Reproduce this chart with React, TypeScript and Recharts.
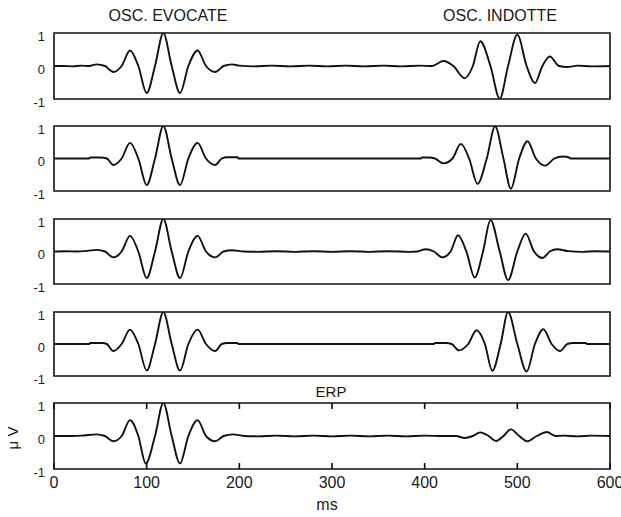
import React from 'react';
import { LineChart, Line, XAxis, YAxis, ReferenceArea } from 'recharts';

const xTicks = [0, 100, 200, 300, 400, 500, 600];
const yTicks = [-1, 0, 1];

const panelTitles = ['OSC. EVOCATE', 'OSC. INDOTTE', 'ERP'];
const xAxisTitle = 'ms';
const yAxisTitle = 'μ V';

// Trial 1 (ms, µV)
const trial1Ms = [0, 10, 20, 30, 38, 46, 55, 64, 73, 82, 91, 100, 109, 118, 127, 136, 145, 155, 164, 174, 183, 192, 200, 215, 235, 255, 275, 295, 315, 335, 355, 375, 395, 408, 420, 431, 443, 452, 460, 471, 481, 490, 500, 510, 519, 527, 535, 545, 554, 565, 580, 600];
const trial1Uv = [0, 0, -0.01, 0.01, 0, 0.05, 0, -0.18, 0, 0.47, 0, -0.82, 0, 1.0, 0, -0.82, 0, 0.47, 0, -0.18, 0, 0.05, 0.01, -0.01, 0.01, -0.01, 0.01, -0.01, 0.01, -0.01, 0.01, -0.01, 0.01, 0, 0.15, 0, -0.37, 0, 0.75, 0, -0.99, 0, 0.95, 0, -0.52, 0, 0.29, 0, -0.03, 0.01, -0.01, 0];

// Trial 2
const trial2Ms = [0, 38, 39, 50, 57, 64, 73, 82, 91, 100, 109, 118, 127, 136, 145, 155, 164, 174, 181, 187, 198, 199, 396, 397, 405, 411, 420, 430, 439, 448, 457, 467, 476, 485, 493, 502, 511, 520, 530, 540, 549, 556, 557, 600];
const trial2Uv = [0, 0, 0.03, 0.03, 0, -0.2, 0, 0.48, 0, -0.82, 0, 1.0, 0, -0.82, 0, 0.48, 0, -0.2, 0, 0.04, 0.04, 0, 0, 0.03, 0.03, 0, -0.15, 0, 0.45, 0, -0.78, 0, 0.99, 0, -0.93, 0, 0.53, 0, -0.22, 0, 0.06, 0.03, 0, 0];

// Trial 3
const trial3Ms = [0, 12, 24, 36, 46, 55, 64, 73, 82, 91, 100, 109, 118, 127, 136, 145, 155, 164, 174, 183, 192, 205, 220, 240, 260, 280, 300, 320, 340, 360, 383, 392, 401, 410, 419, 428, 436, 445, 454, 463, 471, 481, 490, 500, 509, 518, 527, 535, 543, 555, 570, 585, 600];
const trial3Uv = [0, 0.01, 0, 0.02, 0.05, 0, -0.18, 0, 0.48, 0, -0.82, 0, 1.0, 0, -0.82, 0, 0.48, 0, -0.18, 0, 0.04, 0, -0.01, 0.01, -0.01, 0.01, -0.01, 0.01, -0.01, 0.01, -0.01, 0, 0.07, 0, -0.18, 0, 0.5, 0, -0.8, 0, 0.97, 0, -0.88, 0, 0.55, 0, -0.2, 0, 0.07, 0.01, -0.01, 0.01, 0];

// Trial 4
const trial4Ms = [0, 38, 39, 52, 57, 64, 73, 82, 91, 100, 109, 118, 127, 136, 145, 155, 164, 174, 181, 187, 198, 199, 410, 411, 423, 429, 437, 447, 456, 465, 473, 482, 490, 500, 510, 519, 528, 537, 546, 554, 560, 574, 575, 600];
const trial4Uv = [0, 0, 0.03, 0.03, 0, -0.22, 0, 0.45, 0, -0.83, 0, 1.0, 0, -0.83, 0, 0.45, 0, -0.22, 0, 0.03, 0.03, 0, 0, 0.03, 0.03, 0, -0.2, 0, 0.43, 0, -0.84, 0, 1.0, 0, -0.86, 0, 0.46, 0, -0.22, 0, 0.03, 0.03, 0, 0];

// ERP (average)
const erpMs = [0, 20, 30, 46, 55, 64, 73, 82, 91, 99, 109, 118, 127, 136, 145, 155, 164, 174, 183, 193, 205, 220, 240, 260, 280, 300, 320, 340, 360, 380, 400, 420, 434, 443, 452, 460, 469, 477, 485, 493, 502, 511, 521, 532, 541, 550, 565, 580, 600];
const erpUv = [0, 0, 0.01, 0.05, 0, -0.16, 0, 0.48, 0, -0.83, 0, 1.0, 0, -0.83, 0, 0.48, 0, -0.16, 0, 0.05, 0, -0.01, 0.01, -0.01, 0.01, -0.01, 0.01, -0.01, 0.01, -0.01, 0.01, 0, 0, -0.06, 0, 0.11, 0, -0.15, 0, 0.2, 0, -0.16, 0, 0.12, 0, 0.01, -0.01, 0.01, 0];

const FONT = '"Liberation Sans", Arial, Helvetica, sans-serif';
const INK = '#111';
const TEXT = '#1a1a1a';

const toRows = (ms: number[], uv: number[]) => ms.map((t, i) => ({ t, v: uv[i] }));

type PanelProps = { ms: number[]; uv: number[]; top: number; plotH: number; last?: boolean };

function Panel({ ms, uv, top, plotH, last }: PanelProps) {
  const data = toRows(ms, uv);
  const pad = 12;
  const bottomAxisH = last ? 48 : 0;
  const h = pad + plotH + (last ? bottomAxisH : pad);
  const yTickStyle = { fontSize: 13, fill: TEXT, fontFamily: FONT, dy: 3 };
  return (
    <div style={{ position: 'absolute', left: 0, top: top - pad }}>
      <LineChart width={621} height={h} data={data} margin={{ top: pad, right: 11, bottom: last ? 0 : pad, left: 0 }}>
        <XAxis
          dataKey="t"
          type="number"
          domain={[0, 600]}
          ticks={xTicks}
          height={bottomAxisH}
          hide={!last}
          axisLine={false}
          tickLine={{ stroke: INK, strokeWidth: 1.7 }}
          tickSize={-6}
          tickMargin={14}
          tick={{ fontSize: 16, fill: TEXT, fontFamily: FONT }}
          interval={0}
        />
        {last && (
          <XAxis
            xAxisId="top"
            orientation="top"
            mirror
            dataKey="t"
            type="number"
            domain={[0, 600]}
            ticks={xTicks}
            height={10}
            axisLine={false}
            tickLine={{ stroke: INK, strokeWidth: 1.7 }}
            tickSize={6}
            tickFormatter={() => ''}
            interval={0}
          />
        )}
        <YAxis
          type="number"
          domain={[-1, 1]}
          ticks={yTicks}
          width={54}
          allowDataOverflow
          axisLine={false}
          tickLine={false}
          tickSize={6}
          tickMargin={3}
          tick={yTickStyle}
          interval={0}
        />
        <ReferenceArea
          x1={0}
          x2={600}
          y1={-1}
          y2={1}
          fill="none"
          fillOpacity={0}
          stroke={INK}
          strokeWidth={1.6}
          ifOverflow="visible"
        />
        <Line
          type="monotone"
          dataKey="v"
          stroke={INK}
          strokeWidth={1.9}
          dot={false}
          activeDot={false}
          isAnimationActive={false}
        />
      </LineChart>
    </div>
  );
}

export default function App() {
  return (
    <div style={{ position: 'absolute', left: 0, top: 0, width: 621, height: 517, background: '#fff', overflow: 'hidden' }}>
      <Panel ms={trial1Ms} uv={trial1Uv} top={33} plotH={66} />
      <Panel ms={trial2Ms} uv={trial2Uv} top={126} plotH={65} />
      <Panel ms={trial3Ms} uv={trial3Uv} top={219} plotH={65} />
      <Panel ms={trial4Ms} uv={trial4Uv} top={312} plotH={64} />
      <Panel ms={erpMs} uv={erpUv} top={403} plotH={66} last />
      <svg width={621} height={517} style={{ position: 'absolute', left: 0, top: 0, pointerEvents: 'none' }}>
        <g fontFamily={FONT} fill={TEXT}>
          <text x={168} y={21} fontSize={16} textAnchor="middle">{panelTitles[0]}</text>
          <text x={500} y={21} fontSize={16} textAnchor="middle">{panelTitles[1]}</text>
          <text x={331} y={397} fontSize={15} textAnchor="middle">{panelTitles[2]}</text>
          <text x={327} y={510} fontSize={16} textAnchor="middle">{xAxisTitle}</text>
          <text x={18} y={438} fontSize={15} textAnchor="middle" transform="rotate(-90 18 438)">{yAxisTitle}</text>
        </g>
      </svg>
    </div>
  );
}
